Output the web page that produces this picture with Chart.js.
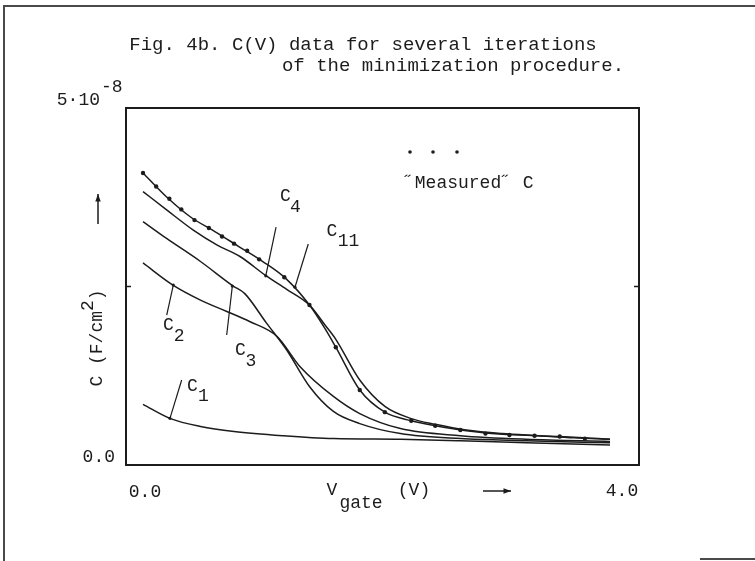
<html lang="en">
<head>
  <meta charset="UTF-8" />
  <title>Fig. 4b</title>
  <script src="https://cdn.jsdelivr.net/npm/chart.js"></script>
  <style>
    html, body { margin: 0; padding: 0; background: #fff; }
    #wrap { position: relative; width: 755px; height: 561px; overflow: hidden; }
    #cv { position: absolute; left: 0; top: 0; }
    .edge { position: absolute; background: #4a4a4a; }
  </style>
</head>
<body>
  <div id="wrap">
    <canvas id="cv" width="755" height="561"></canvas>
    <div class="edge" style="left:3px; top:5px; width:2px; height:556px;"></div>
    <div class="edge" style="left:3px; top:5px; width:752px; height:2px;"></div>
    <div class="edge" style="left:700px; top:558px; width:55px; height:2px;"></div>
  </div>

  <script>
    // C in units of 1e-8 F/cm2, V in volts
    const measuredV = [0, 0.11, 0.22, 0.32, 0.43, 0.55, 0.66, 0.76, 0.87, 0.97, 1.18, 1.39, 1.61, 1.81, 2.02, 2.24, 2.44, 2.65, 2.86, 3.06, 3.27, 3.48, 3.69];
    const measuredC = [4.09, 3.90, 3.73, 3.58, 3.43, 3.32, 3.20, 3.10, 3.00, 2.88, 2.63, 2.24, 1.65, 1.05, 0.74, 0.62, 0.55, 0.49, 0.44, 0.42, 0.41, 0.40, 0.37];

    const c11V = [0, 0.2, 0.4, 0.6, 0.8, 1.0, 1.2, 1.39, 1.52, 1.61, 1.81, 2.02, 2.24, 2.44, 2.7, 3.0, 3.3, 3.6, 3.9];
    const c11C = [4.09, 3.75, 3.47, 3.27, 3.06, 2.85, 2.60, 2.24, 1.91, 1.65, 1.05, 0.74, 0.62, 0.55, 0.48, 0.43, 0.41, 0.39, 0.36];

    const c4V = [0, 0.2, 0.42, 0.62, 0.81, 1.02, 1.2, 1.39, 1.52, 1.61, 1.81, 2.02, 2.24, 2.44, 2.7, 3.0, 3.3, 3.6, 3.9];
    const c4C = [3.83, 3.57, 3.29, 3.08, 2.92, 2.66, 2.46, 2.24, 1.96, 1.76, 1.19, 0.82, 0.65, 0.57, 0.49, 0.44, 0.41, 0.38, 0.36];

    const c3V = [0, 0.2, 0.48, 0.75, 0.85, 1.03, 1.2, 1.39, 1.59, 1.81, 2.15, 2.65, 3.2, 3.9];
    const c3C = [3.41, 3.17, 2.85, 2.51, 2.40, 1.99, 1.61, 1.10, 0.75, 0.58, 0.44, 0.37, 0.34, 0.31];

    const c2V = [0, 0.25, 0.48, 0.7, 0.89, 1.12, 1.31, 1.59, 1.81, 2.15, 2.65, 3.2, 3.9];
    const c2C = [2.83, 2.52, 2.31, 2.15, 2.01, 1.80, 1.38, 0.96, 0.72, 0.51, 0.41, 0.36, 0.33];

    const c1V = [0, 0.23, 0.48, 0.76, 1.17, 1.59, 2.15, 2.65, 3.2, 3.9];
    const c1C = [0.85, 0.65, 0.54, 0.47, 0.41, 0.37, 0.36, 0.34, 0.31, 0.28];

    const xTicks = ['0.0', '4.0'];
    const yTicks = ['0.0', '5·10'];

    const ink = '#1c1c1c';
    const face = '"Liberation Mono", "DejaVu Sans Mono", monospace';

    const pts = (xs, ys) => xs.map((v, i) => ({ x: v, y: ys[i] }));

    function curve(label, xs, ys) {
      return {
        label, data: pts(xs, ys), showLine: true,
        borderColor: ink, borderWidth: 1.5, pointRadius: 0,
        cubicInterpolationMode: 'monotone', fill: false
      };
    }

    // curve labels: text position, subscript position, pointer line (all in data units)
    const curveNotes = [
      { c: 'C', s: '4',  at: [1.19, 3.76], sub: [1.273, 3.61], from: [1.111, 3.33], to: [1.025, 2.65] },
      { c: 'C', s: '11', at: [1.578, 3.27], sub: [1.716, 3.13], from: [1.38, 3.095], to: [1.269, 2.49] },
      { c: 'C', s: '2',  at: [0.213, 1.96], sub: [0.301, 1.80], from: [0.198, 2.10], to: [0.253, 2.52] },
      { c: 'C', s: '3',  at: [0.814, 1.61], sub: [0.902, 1.45], from: [0.699, 1.82], to: [0.746, 2.507] },
      { c: 'C', s: '1',  at: [0.413, 1.10], sub: [0.505, 0.966], from: [0.323, 1.19], to: [0.225, 0.654] }
    ];

    function arrow(ctx, x1, y1, x2, y2) {
      ctx.beginPath();
      ctx.moveTo(x1, y1); ctx.lineTo(x2, y2); ctx.stroke();
      const ang = Math.atan2(y2 - y1, x2 - x1);
      ctx.beginPath();
      ctx.moveTo(x2, y2);
      ctx.lineTo(x2 - 8 * Math.cos(ang - 0.35), y2 - 8 * Math.sin(ang - 0.35));
      ctx.lineTo(x2 - 8 * Math.cos(ang + 0.35), y2 - 8 * Math.sin(ang + 0.35));
      ctx.closePath(); ctx.fill();
    }

    const figure = {
      id: 'figure',
      afterDraw(chart) {
        const { ctx, chartArea: a, scales: { x, y } } = chart;
        ctx.save();
        ctx.strokeStyle = ink; ctx.fillStyle = ink;

        // frame
        ctx.lineWidth = 2;
        ctx.strokeRect(a.left, a.top, a.right - a.left, a.bottom - a.top);
        ctx.lineWidth = 1.5;
        const ym = y.getPixelForValue(2.5);
        ctx.beginPath();
        ctx.moveTo(a.left, ym); ctx.lineTo(a.left + 5, ym);
        ctx.moveTo(a.right, ym); ctx.lineTo(a.right - 5, ym);
        ctx.stroke();

        ctx.font = '19px ' + face;
        ctx.textBaseline = 'middle';
        ctx.textAlign = 'center';
        ctx.fillText('Fig. 4b. C(V) data for several iterations', 363, 45);
        ctx.fillText('of the minimization procedure.', 453, 66);

        ctx.font = '18px ' + face;
        // y tick labels
        ctx.textAlign = 'right';
        ctx.fillText(yTicks[0], a.left - 11, y.getPixelForValue(0) - 8);
        ctx.fillText(yTicks[1], 100, y.getPixelForValue(5) - 8);
        ctx.textAlign = 'left';
        ctx.fillText('-8', 101, y.getPixelForValue(5) - 21);

        // x tick labels
        ctx.textAlign = 'center';
        ctx.fillText(xTicks[0], x.getPixelForValue(0) + 2, a.bottom + 27);
        ctx.fillText(xTicks[1], x.getPixelForValue(4), a.bottom + 26);

        // x title
        ctx.fillText('V', 332, a.bottom + 25);
        ctx.fillText('gate', 361, a.bottom + 38);
        ctx.fillText('(V)', 414, a.bottom + 25);
        ctx.lineWidth = 1.5;
        arrow(ctx, 483, a.bottom + 26, 511, a.bottom + 26);

        // y title, rotated
        ctx.save();
        ctx.translate(97, 338);
        ctx.rotate(-Math.PI / 2);
        const w1 = ctx.measureText('C (F/cm').width;
        const w2 = ctx.measureText('2').width;
        const w3 = ctx.measureText(')').width;
        let sx = -(w1 + w2 + w3) / 2;
        ctx.textAlign = 'left';
        ctx.fillText('C (F/cm', sx, 0);
        ctx.fillText('2', sx + w1, -9);
        ctx.fillText(')', sx + w1 + w2, 0);
        ctx.restore();
        arrow(ctx, 98, 224, 98, 194);

        // legend
        ctx.textAlign = 'left';
        [410, 433, 457].forEach(px => {
          ctx.beginPath(); ctx.arc(px, 152, 1.8, 0, Math.PI * 2); ctx.fill();
        });
        ctx.fillText('˝Measured˝ C', 404, 183);

        // curve labels with pointers
        ctx.textAlign = 'center';
        ctx.lineWidth = 1.2;
        curveNotes.forEach(n => {
          ctx.beginPath();
          ctx.moveTo(x.getPixelForValue(n.from[0]), y.getPixelForValue(n.from[1]));
          ctx.lineTo(x.getPixelForValue(n.to[0]), y.getPixelForValue(n.to[1]));
          ctx.stroke();
          ctx.fillText(n.c, x.getPixelForValue(n.at[0]), y.getPixelForValue(n.at[1]));
          ctx.fillText(n.s, x.getPixelForValue(n.sub[0]), y.getPixelForValue(n.sub[1]));
          ctx.beginPath();
          ctx.arc(x.getPixelForValue(n.to[0]), y.getPixelForValue(n.to[1]), 1.6, 0, Math.PI * 2);
          ctx.fill();
        });
        ctx.restore();
      }
    };

    new Chart(document.getElementById('cv'), {
      type: 'scatter',
      data: {
        datasets: [
          curve('C1', c1V, c1C),
          curve('C2', c2V, c2C),
          curve('C3', c3V, c3C),
          curve('C4', c4V, c4C),
          curve('C11', c11V, c11C),
          {
            label: 'Measured C', data: pts(measuredV, measuredC), showLine: false,
            pointRadius: 2.2, pointBackgroundColor: ink, pointBorderWidth: 0
          }
        ]
      },
      options: {
        responsive: false,
        animation: false,
        layout: { padding: { left: 126, top: 108, right: 116, bottom: 96 } },
        plugins: { legend: { display: false }, tooltip: { enabled: false } },
        scales: {
          x: { type: 'linear', min: -0.142, max: 4.142, display: false },
          y: { type: 'linear', min: 0, max: 5, display: false }
        }
      },
      plugins: [figure]
    });
  </script>
</body>
</html>
